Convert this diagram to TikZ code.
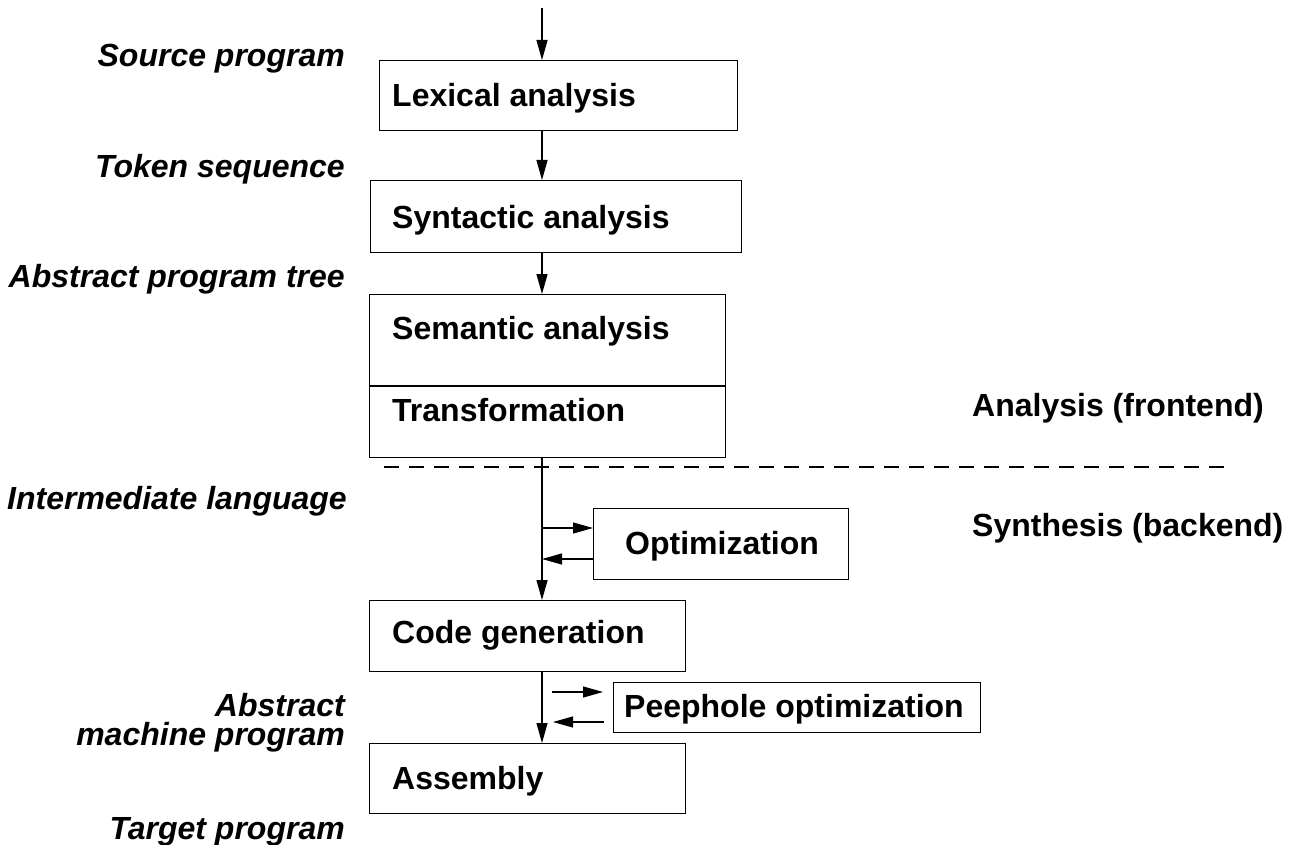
\documentclass[tikz,border=0pt]{standalone}
\usepackage{fontspec}
\setmainfont{Liberation Sans}
\usetikzlibrary{arrows.meta}
\begin{document}
\begin{tikzpicture}[x=1pt,y=-1pt,
  box/.style={draw, line width=1.2pt, inner sep=0pt, anchor=north west},
  boxtext/.style={font=\fontsize{32}{36}\selectfont\bfseries, anchor=base west, inner sep=0pt},
  lbl/.style={font=\fontsize{32}{36}\selectfont\bfseries\itshape, anchor=base east, inner sep=0pt},
  rlbl/.style={font=\fontsize{32}{36}\selectfont\bfseries, anchor=base west, inner sep=0pt},
  conn/.style={line width=1.2pt, -{Triangle[length=20pt,width=11pt]}},
  ln/.style={line width=1.2pt},
  sep/.style={line width=1.2pt, dash pattern=on 15pt off 10pt}]
\useasboundingbox[fill=white] (0,0) rectangle (1298,845);

% boxes
\node[box, minimum width=358pt, minimum height=70pt] (lex) at (379,60) {};
\node[box, minimum width=371pt, minimum height=72pt] (syn) at (370,180) {};
\node[box, minimum width=356pt, minimum height=163pt] (sem) at (369,294) {};
\node[box, minimum width=255pt, minimum height=71pt] (opt) at (593,508) {};
\node[box, minimum width=316pt, minimum height=71pt] (cg) at (369,600) {};
\node[box, minimum width=367pt, minimum height=50pt] (peep) at (613,682) {};
\node[box, minimum width=316pt, minimum height=70pt] (asm) at (369,743) {};

% box texts
\node[boxtext] (lext) at (392,107) {Lexical analysis};
\node[boxtext] (synt) at (392,229) {Syntactic analysis};
\node[boxtext] (semt) at (392,339) {Semantic analysis};
\node[boxtext] (trt) at (392,421) {Transformation};
\node[boxtext] (optt) at (625,554) {Optimization};
\node[boxtext] (cgt) at (392,643) {Code generation};
\node[boxtext] (peept) at (624,717) {Peephole optimization};
\node[boxtext] (asmt) at (392,789) {Assembly};

% semantic/transformation divider
\coordinate (divL) at (369,386);
\draw[ln] (divL) -- (divL -| sem.east);

% left labels
\node[lbl] (src) at (345,67) {Source program};
\node[lbl] (tok) at (345,178) {Token sequence};
\node[lbl] (apt) at (345,287) {Abstract program tree};
\node[lbl] (il) at (347,509) {Intermediate language};
\node[lbl] (amp1) at (345,716) {Abstract};
\node[lbl] (amp2) at (345,745) {machine program};
\node[lbl] (tgt) at (345,839) {Target program};

% right labels
\node[rlbl] (ana) at (972,416) {Analysis (frontend)};
\node[rlbl] (syn2) at (972,536) {Synthesis (backend)};

% dashed separator
\coordinate (dsL) at (384,467);
\coordinate (dsR) at (1228,467);
\draw[sep] (dsL) -- (dsR);

% main flow
\coordinate (top) at (542,8);
\draw[conn] (top) -- (top |- lex.north);
\draw[conn] (top |- lex.south) -- (top |- syn.north);
\draw[conn] (top |- syn.south) -- (top |- sem.north);
\draw[conn] (top |- sem.south) -- (top |- cg.north);
\draw[conn] (top |- cg.south) -- (top |- asm.north);

% optimization loop
\coordinate (oa) at (542,528);
\coordinate (ob) at (542,559);
\draw[conn] (oa) -- (oa -| opt.west);
\draw[conn] (ob -| opt.west) -- (ob);

% peephole loop
\coordinate (pa1) at (552,692);
\coordinate (pa2) at (603,692);
\coordinate (pb1) at (604,722);
\coordinate (pb2) at (553,722);
\draw[conn] (pa1) -- (pa2);
\draw[conn] (pb1) -- (pb2);
\end{tikzpicture}
\end{document}
